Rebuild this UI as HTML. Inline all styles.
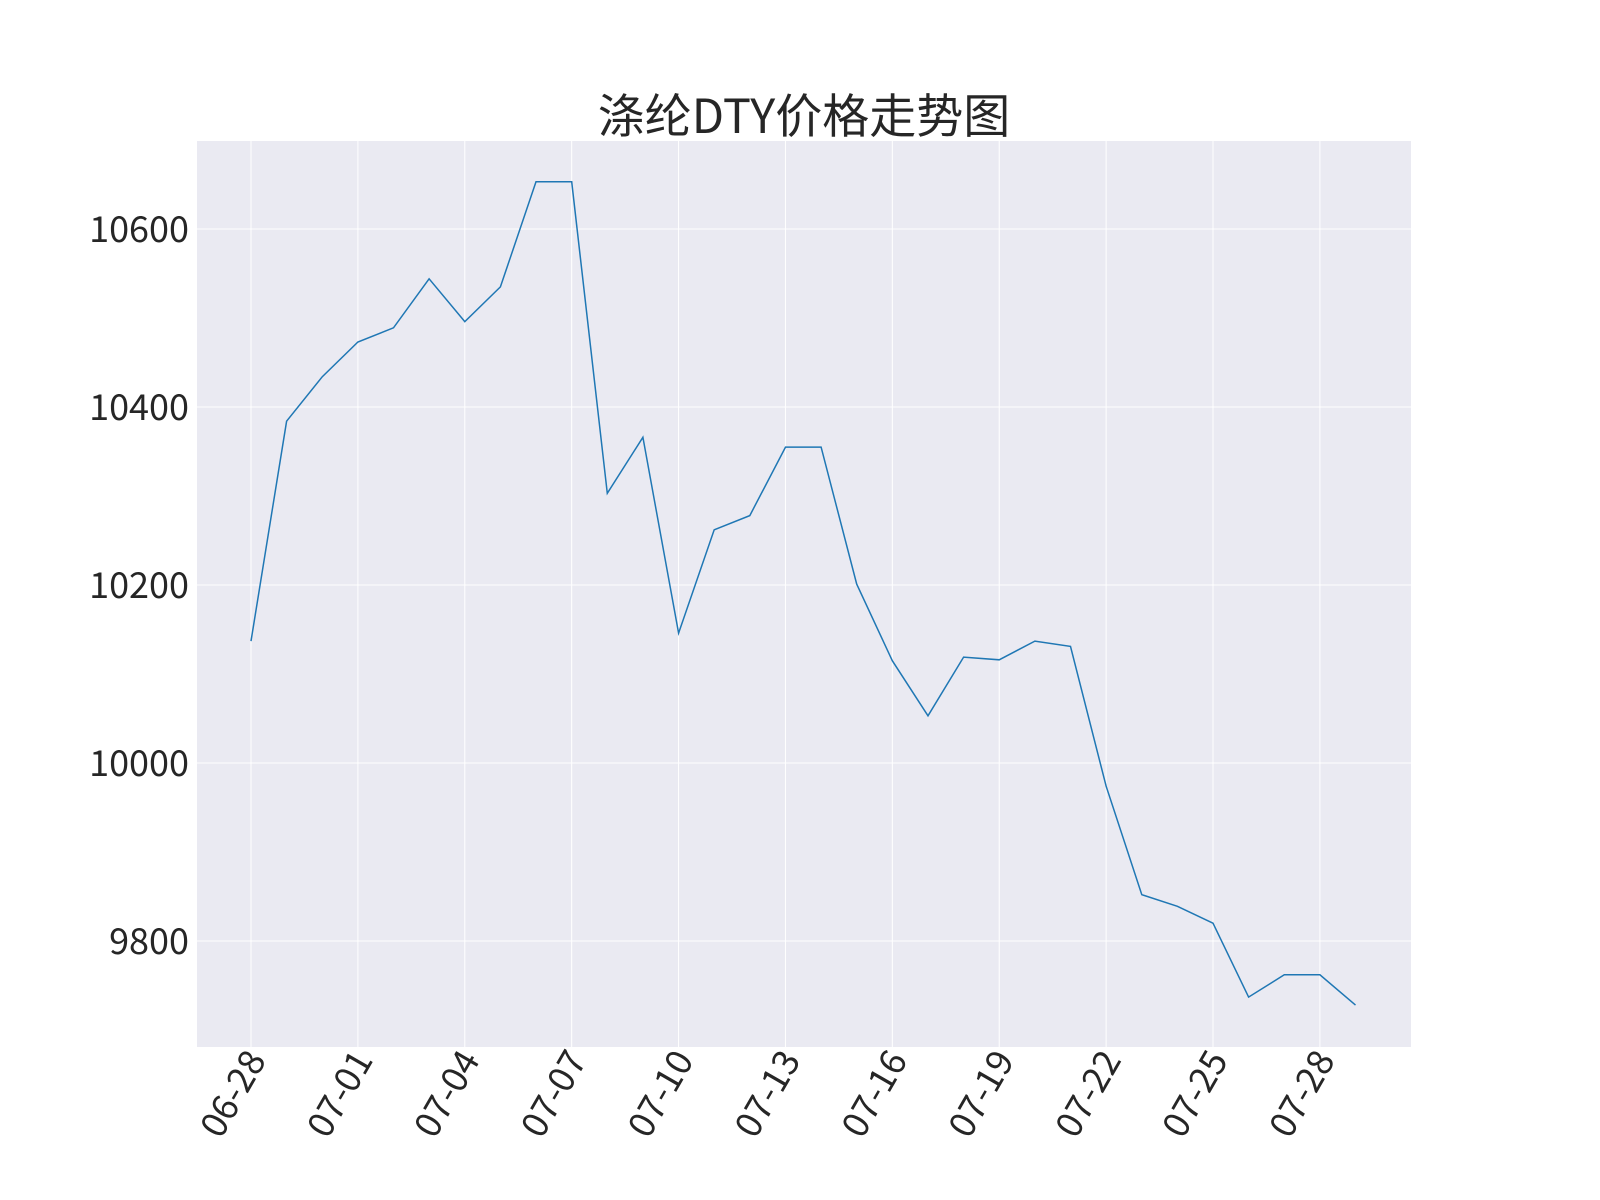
<!DOCTYPE html>
<html><head><meta charset="utf-8"><style>
html,body{margin:0;padding:0;background:#fff;}
svg{display:block;font-family:"WenQuanYi Zen Hei","文泉驿正黑","WenQuanYi Zen Hei Sharp","Noto Sans CJK SC",sans-serif;}
</style></head><body>
<svg id="chart" width="1600" height="1200">
<rect x="197" y="141" width="1214" height="906" fill="#eaeaf2"/>
<g id="grid"></g><g id="xt"></g><g id="yt"></g>
<path id="line" fill="none" stroke="#1f77b4" stroke-width="1.5"/>
<text x="804" y="133" text-anchor="middle" font-size="47" fill="#262626">涤纶DTY价格走势图</text>
</svg>
<script>
const dates=["06-28","06-29","06-30","07-01","07-02","07-03","07-04","07-05","07-06","07-07","07-08","07-09","07-10","07-11","07-12","07-13","07-14","07-15","07-16","07-17","07-18","07-19","07-20","07-21","07-22","07-23","07-24","07-25","07-26","07-27","07-28","07-29"];
const prices=[10137,10384,10434,10473,10489,10544,10496,10535,10653,10653,10303,10366,10146,10262,10278,10355,10355,10201,10115,10053,10119,10116,10137,10131,9974,9852,9839,9820,9737,9762,9762,9728];
const yTicks=[9800,10000,10200,10400,10600];
const xTickIdx=[0,3,6,9,12,15,18,21,24,27,30];
const NS="http://www.w3.org/2000/svg";
function xs(i){return 251+i*35.63;}
function ys(v){return 229+(10600-v)*0.89;}
const grid=document.getElementById('grid'),xt=document.getElementById('xt'),yt=document.getElementById('yt');
yTicks.forEach(v=>{
 const l=document.createElementNS(NS,'line');
 l.setAttribute('x1',197);l.setAttribute('x2',1411);l.setAttribute('y1',ys(v));l.setAttribute('y2',ys(v));
 l.setAttribute('stroke','#fff');l.setAttribute('stroke-width','1');
 
 
 grid.appendChild(l);
 const t=document.createElementNS(NS,'text');
 t.setAttribute('x',189);t.setAttribute('y',ys(v)+13);t.setAttribute('text-anchor','end');
 t.setAttribute('font-size','36');t.setAttribute('fill','#262626');t.textContent=v;
 
 
 yt.appendChild(t);
});
xTickIdx.forEach(i=>{
 const x=xs(i);
 const l=document.createElementNS(NS,'line');
 l.setAttribute('x1',x);l.setAttribute('x2',x);l.setAttribute('y1',141);l.setAttribute('y2',1047);
 l.setAttribute('stroke','#fff');l.setAttribute('stroke-width','1');
 
 
 grid.appendChild(l);
 const t=document.createElementNS(NS,'text');
 t.setAttribute('transform','translate('+(x+16)+',1060) rotate(-60)');
 t.setAttribute('text-anchor','end');t.setAttribute('font-size','36');t.setAttribute('fill','#262626');
 t.textContent=dates[i];
 
 
 xt.appendChild(t);
});
document.getElementById('line').setAttribute('d',prices.map((v,i)=>(i?'L':'M')+xs(i).toFixed(1)+','+ys(v).toFixed(1)).join(''));
</script>
</body></html>
